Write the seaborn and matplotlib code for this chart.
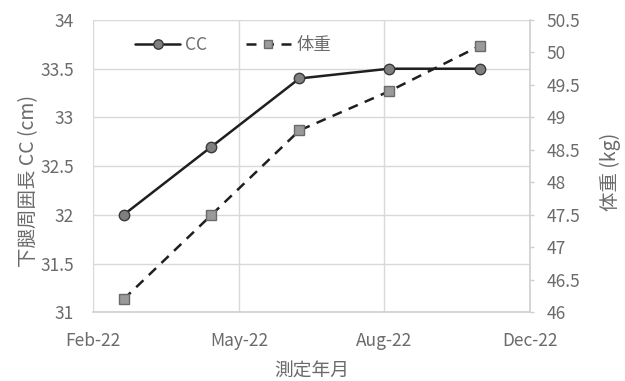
import matplotlib
matplotlib.use("Agg")
import matplotlib.pyplot as plt
import numpy as np
import pandas as pd
import seaborn as sns

# Measurement dates and values
dates = pd.to_datetime(["2022-02-22", "2022-04-24", "2022-06-24", "2022-08-25", "2022-10-27"])
cc_cm = [32.0, 32.7, 33.4, 33.5, 33.5]
weight_kg = [46.2, 47.5, 48.8, 49.4, 50.1]
x_tick_labels = ["Feb-22", "May-22", "Aug-22", "Dec-22"]
left_ticks = [31, 31.5, 32, 32.5, 33, 33.5, 34]
right_ticks = [46, 46.5, 47, 47.5, 48, 48.5, 49, 49.5, 50, 50.5]

sns.set_theme(style="white")
plt.rcParams["font.family"] = ["Noto Sans CJK JP", "DejaVu Sans"]

df = pd.DataFrame({"date": dates, "CC": cc_cm, "体重": weight_kg})

fig = plt.figure(figsize=(6.25, 3.81), dpi=100)
ax = fig.add_axes([0.1493, 0.1803, 0.6987, 0.7672])
ax2 = ax.twinx()

text_col = "#6b6b6b"
grid_col = "#d9d9d9"

x_start = pd.Timestamp("2022-02-01")
x_end = pd.Timestamp("2022-12-01")
tick_pos = pd.date_range(x_start, x_end, periods=len(x_tick_labels))

sns.lineplot(data=df, x="date", y="CC", ax=ax, color="#1f1f1f", linewidth=1.8,
             marker="o", markersize=7.5, markerfacecolor="#7f7f7f",
             markeredgecolor="#3a3a3a", markeredgewidth=1.0, label="CC", legend=False)
sns.lineplot(data=df, x="date", y="体重", ax=ax2, color="#1f1f1f", linewidth=1.8,
             linestyle=(0, (4, 3)), marker="s", markersize=6.5,
             markerfacecolor="#9a9a9a", markeredgecolor="#6a6a6a",
             markeredgewidth=1.0, label="体重", legend=False)

ax.set_xlim(x_start, x_end)
ax.set_xticks(tick_pos)
ax.set_xticklabels(x_tick_labels)
ax.set_ylim(31, 34)
ax.set_yticks(left_ticks)
ax.set_yticklabels([f"{v:g}" for v in left_ticks])
ax2.set_ylim(46, 50.5)
ax2.set_yticks(right_ticks)
ax2.set_yticklabels([f"{v:g}" for v in right_ticks])

ax.grid(True, color=grid_col, linewidth=1.0)
ax.set_axisbelow(True)
ax2.grid(False)

for a in (ax, ax2):
    for s in a.spines.values():
        s.set_visible(False)
ax.spines["bottom"].set_visible(True)
ax.spines["bottom"].set_color("#cfcfcf")
ax.spines["bottom"].set_linewidth(1.2)
ax2.spines["right"].set_visible(True)
ax2.spines["right"].set_color("#cfcfcf")
ax2.spines["right"].set_linewidth(1.2)

ax.tick_params(axis="x", length=0, pad=14, labelsize=12.5, labelcolor=text_col)
ax.tick_params(axis="y", length=0, pad=14, labelsize=12.5, labelcolor=text_col)
ax2.tick_params(axis="y", length=3, width=1, color="#cfcfcf", pad=9,
                labelsize=12.5, labelcolor=text_col)

ax.set_xlabel("測定年月", fontsize=13.5, color=text_col, labelpad=8)
ax.set_ylabel("下腿周囲長 CC (cm)", fontsize=14, color=text_col)
ax.yaxis.set_label_coords(-0.125, 0.45)
ax2.set_ylabel("体重 (kg)", fontsize=14, color=text_col, rotation=90)
ax2.yaxis.set_label_coords(1.16, 0.48)

h1, l1 = ax.get_legend_handles_labels()
h2, l2 = ax2.get_legend_handles_labels()
leg = ax.legend(h1 + h2, l1 + l2, loc="upper left", bbox_to_anchor=(0.06, 1.0),
                ncol=2, frameon=False, fontsize=12.5, handlelength=2.6,
                columnspacing=2.2, handletextpad=0.3, markerscale=0.9)
for t in leg.get_texts():
    t.set_color(text_col)

fig.savefig("out.png", dpi=100)
